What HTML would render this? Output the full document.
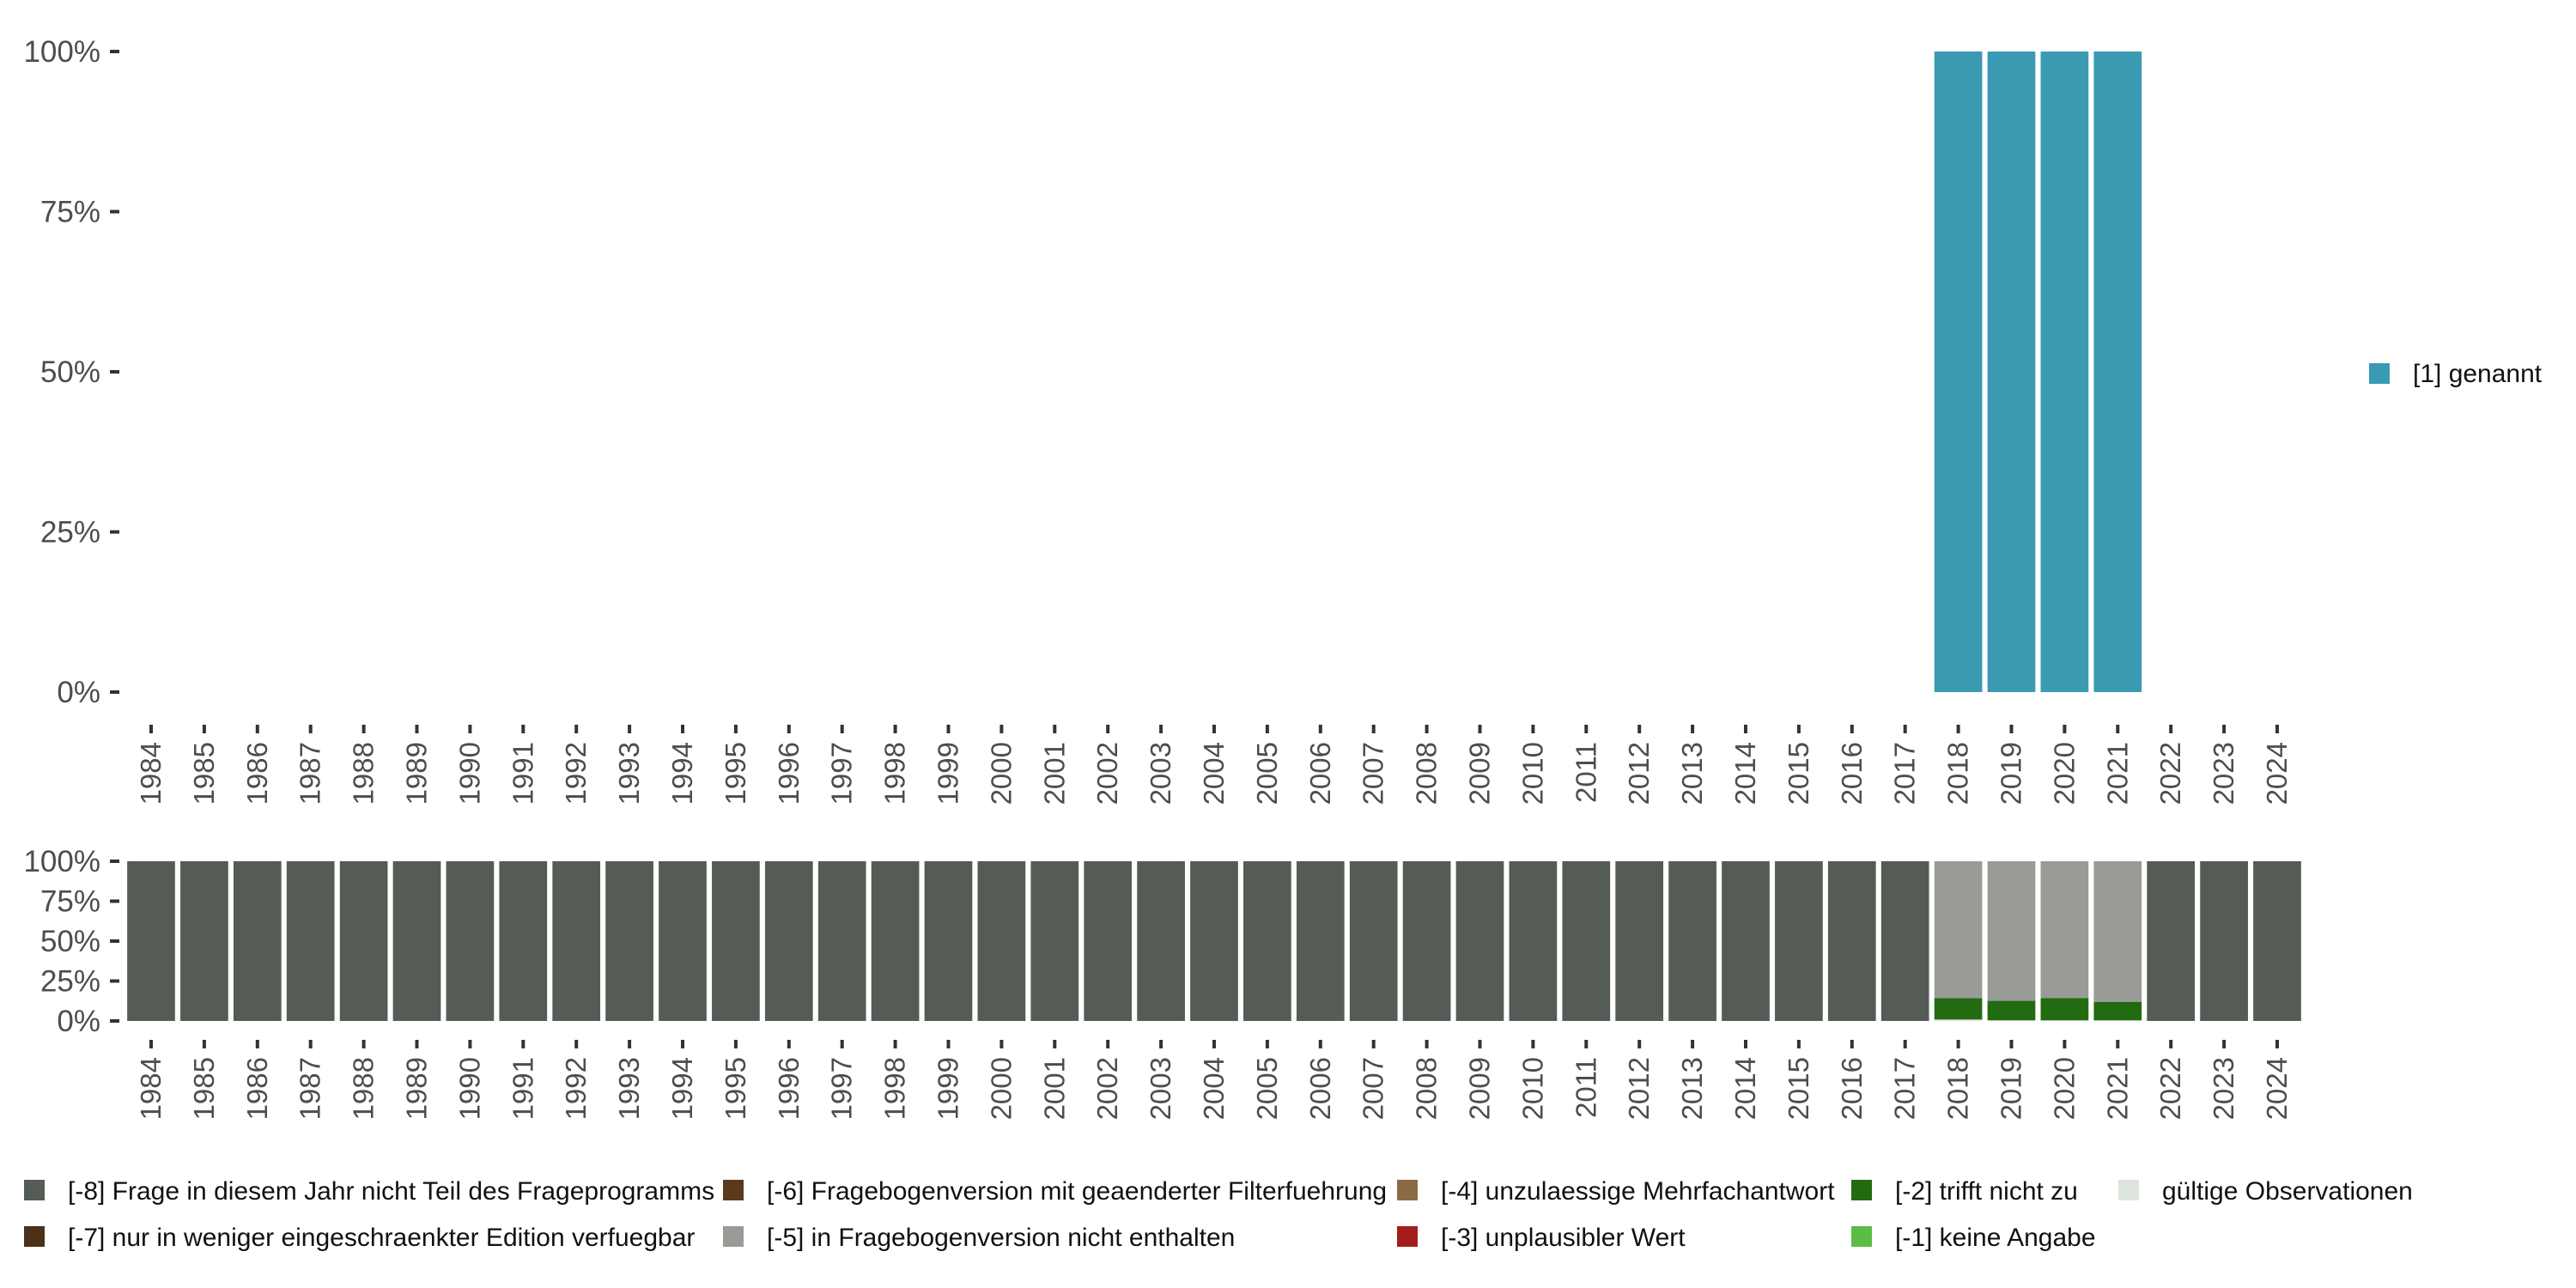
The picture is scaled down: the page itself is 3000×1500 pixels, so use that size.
<!DOCTYPE html>
<html><head><meta charset="utf-8"><style>html,body{margin:0;padding:0;background:#fff}svg{display:block}</style></head>
<body>
<svg id="chart" width="3000" height="1500" viewBox="0 0 3000 1500" xmlns="http://www.w3.org/2000/svg" font-family="'Liberation Sans', sans-serif">
<g id="top"></g>
<g id="bot"></g>
<g id="leg"></g>
</svg>
<script>
const years = [];
for (let y = 1984; y <= 2024; y++) years.push(y);
const topYears = [2018, 2019, 2020, 2021];
const topValues = [100, 100, 100, 100];
const yTickLabels = ["0%", "25%", "50%", "75%", "100%"];
const yTickValues = [0, 25, 50, 75, 100];
const missYears = [2018, 2019, 2020, 2021];
const validShare = [0.9, 0.4, 0.4, 0.4];
const notApplShare = [13.4, 12.2, 14.0, 11.6];
const legendLabels = ["[-8] Frage in diesem Jahr nicht Teil des Frageprogramms","[-7] nur in weniger eingeschraenkter Edition verfuegbar","[-6] Fragebogenversion mit geaenderter Filterfuehrung","[-5] in Fragebogenversion nicht enthalten","[-4] unzulaessige Mehrfachantwort","[-3] unplausibler Wert","[-2] trifft nicht zu","[-1] keine Angabe","gültige Observationen"];
const legendColors = ["#555b55","#4a3118","#5a3a1a","#999c96","#8b6b45","#a51c1c","#226b11","#5bbd45","#dde3dd"];

const NS = "http://www.w3.org/2000/svg";
function mk(parent, tag, attrs, text) {
  const e = document.createElementNS(NS, tag);
  for (const k in attrs) e.setAttribute(k, attrs[k]);
  if (text !== undefined) e.textContent = text;
  parent.appendChild(e);
  return e;
}
const x0 = 176, x1 = 2652;
const step = (x1 - x0) / 40;
const bw = step * 0.9;
const xPos = y => x0 + (y - 1984) * step;

function panel(g, y100, y0, tickGap, name) {
  const ys = v => y0 - (v / 100) * (y0 - y100);
  yTickValues.forEach((v, i) => {
    const t = mk(g, "text", {x: 117, y: ys(v) + 12, "text-anchor": "end", "font-size": 35, fill: "#4d4d4d"}, yTickLabels[i]);
    
    
    mk(g, "line", {x1: 128, x2: 139, y1: ys(v), y2: ys(v), stroke: "#333", "stroke-width": 4});
  });
  const tk = y0 + tickGap;
  years.forEach(y => {
    const x = xPos(y);
    mk(g, "line", {x1: x, x2: x, y1: tk, y2: tk + 10, stroke: "#333", "stroke-width": 4});
    const t = mk(g, "text", {transform: `translate(${x + 11},${tk + 20}) rotate(-90)`, "text-anchor": "end", "font-size": 33, fill: "#4d4d4d"}, String(y));
    
    
  });
  return ys;
}

const gt = document.getElementById("top");
const yt = panel(gt, 60, 806, 38, "top");
topYears.forEach((y, i) => {
  const r = mk(gt, "rect", {x: xPos(y) - bw / 2, y: yt(topValues[i]), width: bw, height: yt(0) - yt(topValues[i]), fill: "#3a9ab2"});
  
  
});
const lr = mk(gt, "rect", {x: 2759, y: 423, width: 24, height: 24, fill: "#3a9ab2"});


const lt = mk(gt, "text", {x: 2810, y: 445, "font-size": 30, fill: "#111"}, "[1] genannt");



const gb = document.getElementById("bot");
const yb = panel(gb, 1003, 1189, 22, "bottom");
years.forEach(y => {
  const x = xPos(y) - bw / 2;
  const mi = missYears.indexOf(y);
  if (mi < 0) {
    const r = mk(gb, "rect", {x, y: yb(100), width: bw, height: yb(0) - yb(100), fill: "#555b55"});
    
    
  } else {
    const v = validShare[mi], n = notApplShare[mi];
    const r1 = mk(gb, "rect", {x, y: yb(v), width: bw, height: yb(0) - yb(v), fill: "#dde3dd"});
    
    
    const r2 = mk(gb, "rect", {x, y: yb(v + n), width: bw, height: yb(v) - yb(v + n), fill: "#226b11"});
    
    
    const r3 = mk(gb, "rect", {x, y: yb(100), width: bw, height: yb(v + n) - yb(100), fill: "#999c96"});
    
    
  }
});

const gl = document.getElementById("leg");
const colX = [28, 842, 1627, 2156, 2467];
legendLabels.forEach((lab, i) => {
  const col = Math.floor(i / 2), row = i % 2;
  const cx = colX[col], cy = row === 0 ? 1386 : 1440;
  const sw = mk(gl, "rect", {x: cx, y: cy - 12, width: 24, height: 24, fill: legendColors[i]});
  
  
  const t = mk(gl, "text", {x: cx + 51, y: cy + 11, "font-size": 30, fill: "#111"}, lab);
  
  
});
</script>
</body></html>
